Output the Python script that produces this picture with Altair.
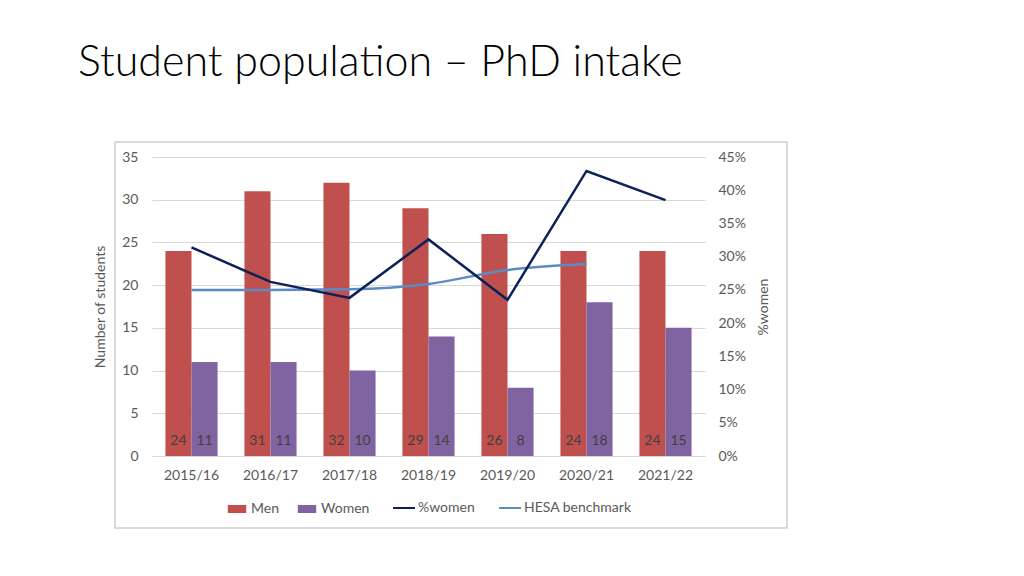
import altair as alt
import pandas as pd

years = ["2015/16", "2016/17", "2017/18", "2018/19", "2019/20", "2020/21", "2021/22"]
men = [24, 31, 32, 29, 26, 24, 24]
women = [11, 11, 10, 14, 8, 18, 15]
pct_women = [0.314, 0.262, 0.238, 0.326, 0.235, 0.429, 0.385]
hesa_years = ["2015/16", "2016/17", "2017/18", "2018/19", "2019/20", "2020/21"]
hesa = [0.250, 0.250, 0.251, 0.259, 0.280, 0.289]

bar_series = ["Men", "Women"]
line_series = ["%women", "HESA benchmark"]

bars_df = pd.DataFrame({
    "year": years * 2,
    "series": ["Men"] * len(years) + ["Women"] * len(years),
    "value": men + women,
})
lines_df = pd.DataFrame({
    "year": years + hesa_years,
    "series": ["%women"] * len(years) + ["HESA benchmark"] * len(hesa_years),
    "value": pct_women + hesa,
})

FONT = "Lato"
GRAY = "#595959"

x_enc = alt.X(
    "year:N", sort=years, title=None,
    scale=alt.Scale(paddingInner=0.34, paddingOuter=0.17),
    axis=alt.Axis(labelAngle=0, labelPadding=12, ticks=False, domainColor="#D9D9D9",
                  labelColor=GRAY, labelFontSize=14, labelFont=FONT),
)

fill_scale = alt.Scale(domain=bar_series, range=["#C0504D", "#8064A2"])
stroke_scale = alt.Scale(domain=line_series, range=["#0D2159", "#5B8BC7"])

y_left = alt.Y(
    "value:Q", scale=alt.Scale(domain=[0, 35]),
    axis=alt.Axis(values=list(range(0, 36, 5)), title="Number of students", grid=True,
                  gridColor="#D9D9D9", domain=False, ticks=False, labelPadding=14,
                  titlePadding=14, labelColor=GRAY, titleColor=GRAY, labelFontSize=14,
                  titleFontSize=14, titleFontWeight="normal", labelFont=FONT, titleFont=FONT),
)

bars = alt.Chart(bars_df).mark_bar().encode(
    x=x_enc,
    xOffset=alt.XOffset("series:N", sort=bar_series, scale=alt.Scale(paddingInner=0, paddingOuter=0)),
    y=y_left,
    fill=alt.Fill("series:N", scale=fill_scale,
                  legend=alt.Legend(title=None, orient="none", legendX=77, legendY=344,
                                    direction="horizontal",
                                    symbolType="M-1.15,-0.5H1.15V0.5H-1.15Z", symbolSize=256,
                                    labelFontSize=14, labelColor=GRAY, labelFont=FONT,
                                    columnPadding=18, labelOffset=6, symbolStrokeWidth=0)),
)

labels = alt.Chart(bars_df).mark_text(dy=-15, baseline="middle", fontSize=14, font=FONT,
                                      color="#404040").encode(
    x=x_enc,
    xOffset=alt.XOffset("series:N", sort=bar_series),
    y=alt.datum(0),
    text=alt.Text("value:Q"),
)

y_right = alt.Y(
    "value:Q", scale=alt.Scale(domain=[0, 0.45]),
    axis=alt.Axis(orient="right", format=".0%", values=[i * 0.05 for i in range(10)],
                  title="%women", grid=False, domain=False, ticks=False, labelPadding=13,
                  titlePadding=25, titleAngle=270, labelColor=GRAY, titleColor=GRAY,
                  labelFontSize=14, titleFontSize=14, titleFontWeight="normal",
                  labelFont=FONT, titleFont=FONT),
)

stroke_enc = alt.Stroke("series:N", scale=stroke_scale,
                        legend=alt.Legend(title=None, orient="none", legendX=240, legendY=339,
                                          direction="horizontal", symbolType="stroke",
                                          symbolSize=484, symbolStrokeWidth=2,
                                          labelFontSize=14, labelColor=GRAY, labelFont=FONT,
                                          columnPadding=20, labelOffset=2))

line_pct = alt.Chart(lines_df).transform_filter(alt.datum.series == "%women").mark_line(
    strokeWidth=2.5).encode(x=x_enc, y=y_right, stroke=stroke_enc)
line_hesa = alt.Chart(lines_df).transform_filter(alt.datum.series == "HESA benchmark").mark_line(
    strokeWidth=2.5, interpolate="monotone").encode(x=x_enc, y=y_right, stroke=stroke_enc)

frame = alt.Chart(alt.Data(values=[{}])).mark_rect(fill=None, stroke="#D0D0D0", strokeWidth=1.5).encode(
    x=alt.value(-37), x2=alt.value(635), y=alt.value(-15), y2=alt.value(371)
)

chart = alt.layer(
    frame,
    alt.layer(bars, labels),
    alt.layer(line_hesa, line_pct),
).resolve_scale(y="independent").properties(
    width=553, height=299,
    autosize="none",
    padding={"left": 144, "top": 149, "right": 300, "bottom": 100},
    title=alt.TitleParams("Student population – PhD intake", anchor="start", frame="group",
                          dx=-74, offset=22, baseline="alphabetic", fontSize=43, font=FONT,
                          fontWeight=300, color="#000000"),
).configure_view(stroke=None)

chart.save("out.html", embed_options={"renderer": "svg", "actions": False})
